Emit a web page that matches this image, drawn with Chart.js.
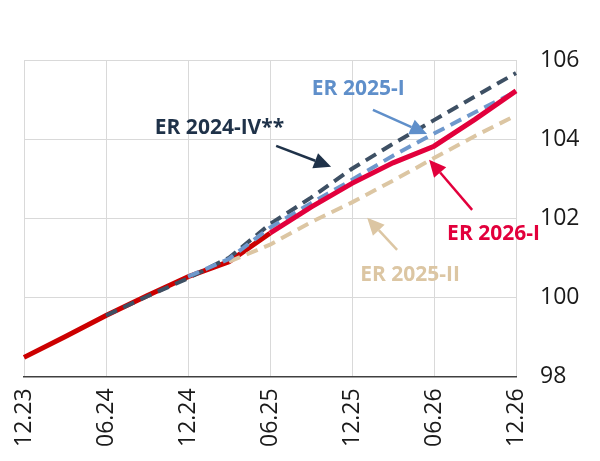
<!DOCTYPE html>
<html>
<head>
<meta charset="utf-8">
<script src="https://cdn.jsdelivr.net/npm/chart.js@4"></script>
<style>
  body { margin: 0; background: #fff; }
</style>
</head>
<body>
<canvas id="erchart" width="600" height="461"></canvas>
<script>
// quarters 12.23 .. 12.26, only half-year ticks get a label
let labelQ = ['12.23','03.24','06.24','09.24','12.24','03.25','06.25','09.25','12.25','03.26','06.26','09.26','12.26']
let yTicks = [98, 100, 102, 104, 106]

let redHist  = [98.48, 99.0, 99.54, 100.04, 100.52, 100.9, 101.62, null, null, null, null, null, null]
let er2026I  = [null, null, null, null, null, null, 101.62, 102.28, 102.88, 103.4, 103.82, 104.5, 105.22]
let er2024IV = [null, null, 99.54, 100.02, 100.48, 101.0, 101.85, 102.52, 103.25, 103.88, 104.48, 105.08, 105.67]
let er2025I  = [null, null, null, null, 100.52, 100.97, 101.76, 102.38, 102.97, 103.58, 104.14, 104.68, 105.2]
let er2025II = [null, null, null, null, null, 100.9, 101.33, 101.9, 102.4, 102.95, 103.52, 104.08, 104.6]

// annotation text + arrows, given in data units (x = quarter index, y = value)
let notes = [
  { text: 'ER 2024-IV**', color: '#1f3249', x: 3.19, y: 104.28, from: [6.15, 103.83], to: [7.49, 103.30] },
  { text: 'ER 2025-I',    color: '#5f8fca', x: 7.02, y: 105.27, from: [8.51, 104.74], to: [9.83, 104.13] },
  { text: 'ER 2026-I',    color: '#e2003c', x: 10.32, y: 101.61, from: [10.93, 102.21], to: [9.88, 103.48] },
  { text: 'ER 2025-II',   color: '#dcc6a3', x: 8.20, y: 100.57, from: [9.10, 101.20], to: [8.37, 102.01] }
]

let notePlugin = {
  id: 'notes',
  afterDatasetsDraw(chart) {
    let c = chart.ctx
    let xs = chart.scales.x
    let ys = chart.scales.y
    c.save()
    notes.forEach(n => {
      c.fillStyle = n.color
      c.strokeStyle = n.color
      c.font = 'bold 21px "Open Sans"'
      c.textAlign = 'left'
      c.textBaseline = 'middle'
      c.fillText(n.text, xs.getPixelForValue(n.x), ys.getPixelForValue(n.y))

      let x1 = xs.getPixelForValue(n.from[0]), y1 = ys.getPixelForValue(n.from[1])
      let x2 = xs.getPixelForValue(n.to[0]), y2 = ys.getPixelForValue(n.to[1])
      let a = Math.atan2(y2 - y1, x2 - x1)
      let hl = 17, hw = 8
      c.lineWidth = 2.5
      c.beginPath()
      c.moveTo(x1, y1)
      c.lineTo(x2 - Math.cos(a) * hl, y2 - Math.sin(a) * hl)
      c.stroke()
      c.beginPath()
      c.moveTo(x2, y2)
      c.lineTo(x2 - Math.cos(a) * hl - Math.sin(a) * hw, y2 - Math.sin(a) * hl + Math.cos(a) * hw)
      c.lineTo(x2 - Math.cos(a) * hl + Math.sin(a) * hw, y2 - Math.sin(a) * hl - Math.cos(a) * hw)
      c.closePath()
      c.fill()
    })
    c.restore()
  }
}

let ctx = document.querySelector('#erchart').getContext('2d')

let chart = new Chart(ctx, {
  type: 'line',
  data: {
    labels: labelQ,
    datasets: [
      { label: 'history', data: redHist, borderColor: '#cc0000', borderWidth: 5, order: 5 },
      { label: 'ER 2025-II', data: er2025II, borderColor: '#dcc6a3', borderWidth: 4, borderDash: [12, 7], order: 4 },
      { label: 'ER 2024-IV**', data: er2024IV, borderColor: '#3e5064', borderWidth: 4, borderDash: [12, 7], order: 3 },
      { label: 'ER 2025-I', data: er2025I, borderColor: '#6f98cc', borderWidth: 4, borderDash: [12, 7], order: 2 },
      { label: 'ER 2026-I', data: er2026I, borderColor: '#e2003c', borderWidth: 5, order: 1 }
    ]
  },
  options: {
    responsive: false,
    animation: false,
    events: [],
    elements: { point: { radius: 0 }, line: { tension: 0, borderCapStyle: 'butt' } },
    layout: { padding: { top: 60, left: 24, right: 20, bottom: 2 } },
    plugins: { legend: { display: false }, tooltip: { enabled: false } },
    scales: {
      x: {
        grid: { color: '#d9d9d9', drawTicks: false },
        border: { color: '#404040', width: 1.5 },
        ticks: {
          autoSkip: false,
          minRotation: 90,
          maxRotation: 90,
          padding: 12,
          color: '#1a1a1a',
          font: { size: 23, family: '"Open Sans"' },
          callback: (v, i) => i % 2 === 0 ? labelQ[i] : null
        }
      },
      y: {
        position: 'right',
        min: yTicks[0],
        max: yTicks[yTicks.length - 1],
        afterBuildTicks: axis => { axis.ticks = yTicks.map(v => ({ value: v })) },
        afterFit: axis => { axis.width = 64 },
        grid: { color: '#d9d9d9', drawTicks: false },
        border: { display: false },
        ticks: {
          padding: 24,
          color: '#1a1a1a',
          font: { size: 23, family: '"Open Sans"' }
        }
      }
    }
  },
  plugins: [notePlugin]
})
</script>
</body>
</html>
